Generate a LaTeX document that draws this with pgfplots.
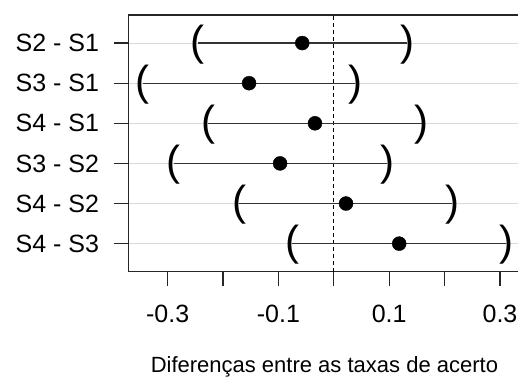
\documentclass[border=0pt]{standalone}
\usepackage{pgfplots}
\pgfplotsset{compat=1.18}
\usepackage{pgfplotstable}
\usepackage{fontspec}
\setmainfont{Liberation Sans}
\pgfplotstableread{
y diff lwr upr
6 -0.057 -0.246 0.133
5 -0.153 -0.345 0.039
4 -0.034 -0.227 0.159
3 -0.097 -0.289 0.096
2 0.022 -0.171 0.214
1 0.118 -0.075 0.311
}\tukey
\begin{document}
\begin{tikzpicture}
\begin{axis}[
  scale only axis,
  width=392.2pt, height=256.7pt,
  xmin=-0.371, xmax=0.337,
  ymin=0.3, ymax=6.7,
  axis line style={black!85, line width=1.2pt},
  tick style={black!85, line width=1.2pt},
  tick align=outside,
  major tick length=14pt,
  xtick={-0.3,-0.2,-0.1,0,0.1,0.2,0.3},
  xticklabels={-0.3,,-0.1,,0.1,,0.3},
  ytick={1,2,3,4,5,6},
  yticklabels={S4 - S3,S4 - S2,S3 - S2,S4 - S1,S3 - S1,S2 - S1},
  xtick pos=bottom, ytick pos=left,
  minor tick num=0,
  ymajorgrids,
  grid style={black!15, line width=1pt},
  xticklabel style={font=\fontsize{25}{25}\selectfont, inner sep=0pt, anchor=north, yshift=-19pt},
  yticklabel style={font=\fontsize{25}{25}\selectfont, inner sep=0pt, anchor=east, xshift=-15pt},
  xlabel={Diferenças entre as taxas de acerto},
  xlabel style={font=\fontsize{22}{22}\selectfont, inner sep=0pt, anchor=north, at={(axis description cs:0.5,0)}, yshift=-85pt},
  clip=false,
]
\addplot[black, dash pattern=on 4pt off 3pt, line width=1pt] coordinates {(0,0.3) (0,6.7)};
\addplot[only marks, mark=*, mark size=7pt, black,
  error bars/.cd, x dir=both, x explicit, error mark=none,
  error bar style={black!80, line width=1.3pt}]
  table[x=diff, y=y, x error plus expr={\thisrow{upr}-\thisrow{diff}}, x error minus expr={\thisrow{diff}-\thisrow{lwr}}] {\tukey};
\addplot[only marks, mark=text, text mark={\fontsize{42}{42}\selectfont (}, mark options={yshift=-1.5pt}, black]
  table[x=lwr, y=y] {\tukey};
\addplot[only marks, mark=text, text mark={\fontsize{42}{42}\selectfont )}, mark options={yshift=-1.5pt}, black]
  table[x=upr, y=y] {\tukey};
\end{axis}
\pgfresetboundingbox
\path (-128.3pt,-106.3pt) rectangle (389.7pt,271.7pt);
\end{tikzpicture}
\end{document}
